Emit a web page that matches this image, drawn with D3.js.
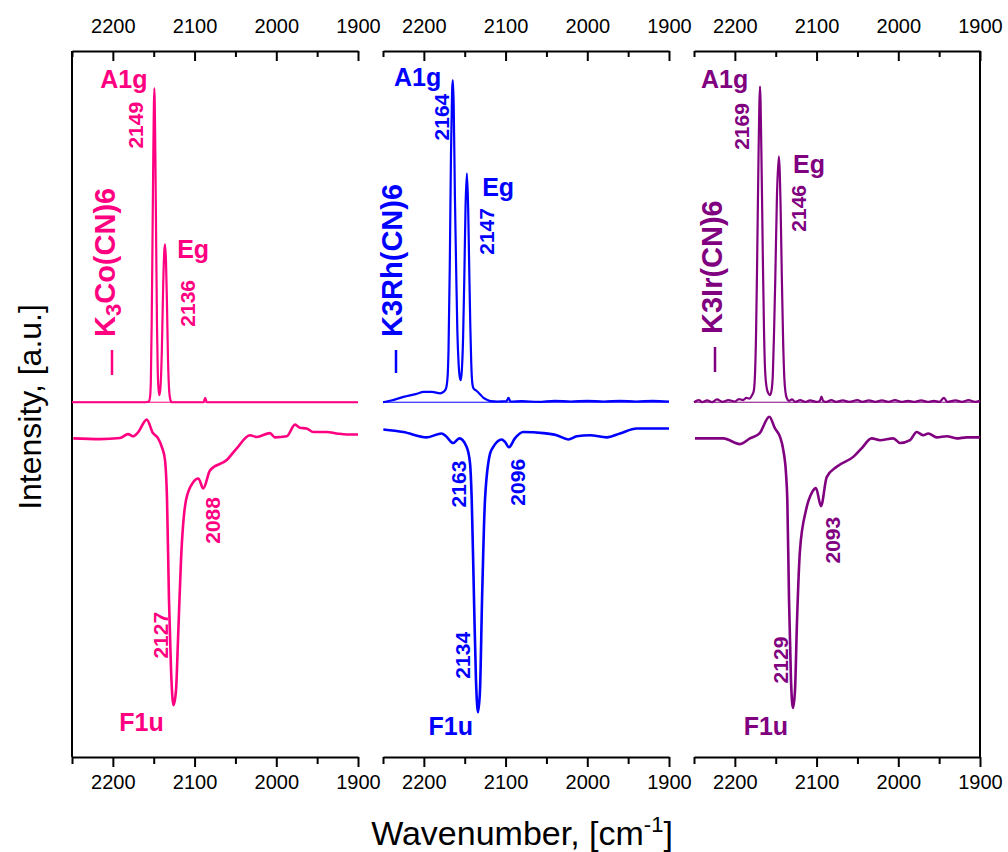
<!DOCTYPE html>
<head>
<meta charset="UTF-8">
<script src="https://d3js.org/d3.v7.min.js"></script>
<style>
  body { margin: 0; background: #fff; }
  svg text { font-family: Arial, "Liberation Sans", Helvetica, sans-serif; }
</style>
</head>
<body>
<div id="chart"></div>
<script>
// ---- data ----
var majorTicks = [2200, 2100, 2000, 1900];
var minorTicks = [2250, 2150, 2050, 1950];
var compounds = ["K3Co(CN)6", "K3Rh(CN)6", "K3Ir(CN)6"];
var colors = ["#ff0080", "#0000ff", "#800080"];

// Raman (upper traces): [wavenumber, intensity]
var ramanCo = [[2250,0],[2230,0],[2200,0],[2175,0],[2160,0],[2156,0.2],[2154.5,1.5],[2153.5,6],[2152.5,22],[2151.5,45],[2150.5,70],[2149.2,88.5],
  [2148,70],[2147,45],[2146,22],[2145,8],[2143.8,3],[2142.8,2],[2141.5,5],[2140,15],[2138.5,32],[2137.2,42],[2136.2,44.5],[2135,40],
  [2133.8,28],[2132.5,12],[2131,3],[2129.5,0.6],[2128,0],[2095,0],[2089,0],[2087,1.2],[2085,0],[2040,0],[1900,0]];
var ramanRh = [[2250,0],[2240,0.5],[2225,1.5],[2210,2.3],[2200,2.9],[2190,2.9],[2180,2.5],[2176,2.9],[2173,3.8],[2171,7],[2169.8,15],
  [2168.3,38],[2166.8,70],[2165.4,88],[2164.5,90.8],[2163.5,84],[2162,58],[2160.5,38],[2159,20],[2157.5,11],[2156,7],[2154.8,6.2],
  [2153.5,9],[2152,18],[2150.5,35],[2149,55],[2147.3,64.5],[2145.8,55],[2144.5,38],[2143.2,22],[2142,11],[2140.5,5],[2139,3.8],
  [2136,3.3],[2131,2.2],[2127,1.2],[2122,0.6],[2118,0.3],[2110,0.2],[2099,0.3],[2096.5,1.2],[2094,0.2],[2080,0.3],[2060,0.1],
  [2040,0.4],[2020,0.2],[2000,0.4],[1980,0.2],[1960,0.4],[1940,0.2],[1920,0.4],[1900,0.2]];
var ramanIr = [[2250,0],[2244,0.6],[2240,0],[2234,0.5],[2228,0],[2222,0.8],[2215,0.1],[2208,0.6],[2200,0.2],[2195,0.9],[2190,0.6],
  [2186,1.2],[2182,1.0],[2179,2],[2177,3],[2175.5,7],[2174,20],[2172.7,40],[2171,70],[2169.2,89],[2167.5,70],[2165.7,40],[2164.3,20],
  [2163,9],[2161,4],[2159,2.5],[2157,2],[2155,3.5],[2153.5,8],[2152,20],[2150.5,35],[2148.5,58],[2146.2,69.3],[2144,55],[2142.5,35],
  [2141,18],[2139.5,7],[2138,2.8],[2136.5,1.2],[2134,0.4],[2130,0.8],[2126,0.1],[2120,0.6],[2114,0.1],[2108,0.5],[2100,0.1],[2096,0.4],
  [2094,1.6],[2092,0.4],[2088,0.1],[2082,0.6],[2076,0.1],[2068,0.5],[2060,0.1],[2050,0.6],[2044,0.1],[2036,0.5],[2028,0.1],[2020,0.5],
  [2012,0.1],[2004,0.6],[1996,0.1],[1988,0.4],[1980,0.1],[1972,0.5],[1964,0.1],[1956,0.4],[1950,0.1],[1944,1.2],[1940,0.1],[1930,0.5],
  [1922,0.1],[1914,0.6],[1906,0.1],[1900,0.5]];

// IR (lower traces)
var irCo = [[2248.4,-10.2],[2215.7,-10.4],[2191.3,-10.1],[2181.5,-9.0],[2175.3,-9.6],[2169.2,-8.5],[2158.6,-4.9],[2150.9,-8.7],
  [2144.8,-10.1],[2139.9,-12.7],[2136.2,-16.3],[2133.7,-27.6],[2131.3,-55.8],[2128.8,-75.5],[2125.8,-85.4],[2122.7,-81.2],
  [2120.3,-67.1],[2116.6,-44.5],[2110.5,-27.6],[2101.5,-22.5],[2095.4,-21.5],[2089.3,-24.3],[2081.1,-19.2],[2060.7,-16.3],
  [2048.4,-13.0],[2032.2,-9.3],[2024.0,-9.8],[2007.7,-8.7],[2001.6,-9.9],[1987.2,-9.6],[1977.1,-6.3],[1971.0,-7.2],[1962.8,-7.4],
  [1954.7,-8.4],[1938.3,-8.4],[1926.1,-8.8],[1913.8,-9.1],[1900,-9.1]];
var irRh = [[2249.6,-7.7],[2225.2,-8.4],[2196.5,-9.9],[2178.2,-8.8],[2172.9,-9.6],[2164.0,-11.5],[2156.6,-10.2],[2147.6,-12.6],
  [2143.5,-17.2],[2141.4,-27.6],[2138.6,-55.8],[2136.2,-78.4],[2133.7,-87.4],[2131.3,-81.2],[2128.8,-55.8],[2125.2,-27.6],
  [2119.0,-14.5],[2115.0,-12.6],[2104.7,-10.5],[2100.7,-11.2],[2095.8,-12.7],[2088.6,-10.2],[2078.3,-8.4],[2053.8,-8.7],
  [2037.4,-9.3],[2023.2,-10.5],[2012.9,-9.6],[1996.7,-9.3],[1976.2,-9.9],[1960.0,-8.8],[1939.5,-7.4],[1919.2,-7.4],[1900,-7.4]];
var irIr = [[2248.8,-10.2],[2214.1,-10.2],[2193.7,-11.8],[2181.5,-10.2],[2169.5,-8.7],[2157.8,-4.1],[2150.9,-7.4],[2144.7,-9.8],
  [2140.7,-13.5],[2137.4,-20.1],[2135.8,-27.6],[2133.7,-55.8],[2131.3,-78.4],[2128.8,-86.2],[2126.4,-81.2],[2123.9,-61.4],
  [2120.3,-41.7],[2112.9,-30.4],[2105.6,-25.4],[2100.7,-24.2],[2094.6,-29.3],[2087.6,-21.1],[2075.4,-18.2],[2055.1,-15.4],
  [2044.9,-13.0],[2032.5,-10.2],[2022.4,-10.7],[2006.1,-10.2],[1997.9,-11.5],[1985.6,-10.7],[1977.5,-8.4],[1969.4,-9.3],
  [1963.3,-8.8],[1952.9,-9.9],[1940.7,-9.6],[1928.5,-10.2],[1916.3,-9.9],[1900,-9.9]];

var ramanSeries = [ramanCo, ramanRh, ramanIr];
var irSeries = [irCo, irRh, irIr];

// band assignments
var a1gBands = [2149, 2164, 2169];
var egBands = [2136, 2147, 2146];
var f1uBands = [2127, 2134, 2129];
var irExtraBands = [[2088], [2163, 2096], [2093]];

// ---- layout ----
var width = 1008, height = 852;
var plotTop = 51, plotBottom = 757, plotLeft = 72, panelW = 286, panelGap = 25;
var col = i => plotLeft + i * (panelW + panelGap);

// label offsets from the band point (px)
var lay = {
  a1gName: [[-7, 0], [-12, 6], [-12, 2]],
  a1gNum:  [[-19, 37], [-12, 37], [-19, 40]],
  egName:  [[12, 14], [15, 23], [14, 17]],
  egNum:   [[22, 59], [19, 58], [19, 52]],
  f1uName: [[-31, 26], [-27, 23], [-27, 27]],
  f1uNum:  [[-12, -70], [-15, -57], [-12, -48]],
  extraNum: [[[9, 32]], [[5, 41], [8, 35]], [[11, 34]]],
  legend: [{x: 40, tx: 33, y0: 350, y1: 375}, {x: 13, tx: 9, y0: 350, y1: 373}, {x: 21, tx: 18, y0: 347, y1: 372}]
};

var svg = d3.select("#chart").append("svg")
    .attr("width", width)
    .attr("height", height);

var y = d3.scaleLinear().domain([-100, 99]).range([plotBottom, plotTop]);

function nearest(series, wn) {
  return d3.least(series, d => Math.abs(d[0] - wn));
}

function vText(g, txt, cx, cy, size, color, anchor) {
  return g.append("text")
    .attr("transform", "translate(" + cx + "," + cy + ") rotate(-90)")
    .attr("text-anchor", anchor || "middle")
    .attr("dy", "0.358em")
    .attr("font-size", size)
    .attr("font-weight", "bold")
    .attr("fill", color)
    .text(txt);
}

compounds.forEach(function(name, i) {
  var x0 = col(i);
  var x = d3.scaleLinear().domain([2250, 1900]).range([x0, x0 + panelW]);
  var c = colors[i];
  var g = svg.append("g");

  // axes
  var top = g.append("g").attr("transform", "translate(0," + plotTop + ")")
    .call(d3.axisTop(x).tickValues(majorTicks).tickSize(-10).tickSizeOuter(0).tickPadding(18).tickFormat(d3.format("d")));
  g.append("g").attr("transform", "translate(0," + plotTop + ")")
    .call(d3.axisTop(x).tickValues(minorTicks).tickSize(-6).tickSizeOuter(0).tickFormat(""))
    .call(a => a.select(".domain").remove());
  var bot = g.append("g").attr("transform", "translate(0," + plotBottom + ")")
    .call(d3.axisBottom(x).tickValues(majorTicks).tickSize(10).tickSizeOuter(0).tickPadding(8).tickFormat(d3.format("d")));
  g.append("g").attr("transform", "translate(0," + plotBottom + ")")
    .call(d3.axisBottom(x).tickValues(minorTicks).tickSize(7).tickSizeOuter(0).tickFormat(""))
    .call(a => a.select(".domain").remove());
  g.selectAll(".domain, .tick line").attr("stroke", "#000").attr("stroke-width", 2);
  g.selectAll(".tick text").attr("font-size", 20).attr("fill", "#000");

  if (i === 0) {
    g.append("line").attr("x1", x(2250)).attr("x2", x(2250)).attr("y1", plotTop).attr("y2", plotBottom)
      .attr("stroke", "#000").attr("stroke-width", 2);
  }
  if (i === compounds.length - 1) {
    g.append("line").attr("x1", x(1900)).attr("x2", x(1900)).attr("y1", plotTop).attr("y2", plotBottom)
      .attr("stroke", "#000").attr("stroke-width", 2);
  }

  // traces
  var line = d3.line().x(d => x(d[0])).y(d => y(d[1])).curve(d3.curveMonotoneX);
  g.append("line").attr("x1", x(2250)).attr("x2", x(1900)).attr("y1", y(0)).attr("y2", y(0))
    .attr("stroke", c).attr("stroke-width", 1);
  g.append("path").datum(ramanSeries[i]).attr("d", line)
    .attr("fill", "none").attr("stroke", c).attr("stroke-width", 2.2).attr("stroke-linejoin", "round");
  g.append("path").datum(irSeries[i]).attr("d", line)
    .attr("fill", "none").attr("stroke", c).attr("stroke-width", 2.6).attr("stroke-linejoin", "round");

  // band labels
  var pA = nearest(ramanSeries[i], a1gBands[i]);
  var ax = x(a1gBands[i]), ay = y(pA[1]);
  g.append("text").attr("x", ax + lay.a1gName[i][0]).attr("y", ay + lay.a1gName[i][1])
    .attr("text-anchor", "end").attr("font-size", 25).attr("font-weight", "bold").attr("fill", c).text("A1g");
  vText(g, a1gBands[i], ax + lay.a1gNum[i][0], ay + lay.a1gNum[i][1], 21, c);

  var pE = nearest(ramanSeries[i], egBands[i]);
  var ex = x(egBands[i]), ey = y(pE[1]);
  g.append("text").attr("x", ex + lay.egName[i][0]).attr("y", ey + lay.egName[i][1])
    .attr("text-anchor", "start").attr("font-size", 25).attr("font-weight", "bold").attr("fill", c).text("Eg");
  vText(g, egBands[i], ex + lay.egNum[i][0], ey + lay.egNum[i][1], 21, c);

  var pF = nearest(irSeries[i], f1uBands[i]);
  var fx = x(f1uBands[i]), fy = y(pF[1]);
  g.append("text").attr("x", fx + lay.f1uName[i][0]).attr("y", fy + lay.f1uName[i][1])
    .attr("text-anchor", "middle").attr("font-size", 25).attr("font-weight", "bold").attr("fill", c).text("F1u");
  vText(g, f1uBands[i], fx + lay.f1uNum[i][0], fy + lay.f1uNum[i][1], 21, c);

  irExtraBands[i].forEach(function(b, k) {
    var p = nearest(irSeries[i], b);
    vText(g, b, x(p[0]) + lay.extraNum[i][k][0], y(p[1]) + lay.extraNum[i][k][1], 21, c);
  });

  // legend
  var L = lay.legend[i];
  g.append("line").attr("x1", x0 + L.x).attr("x2", x0 + L.x).attr("y1", L.y0).attr("y2", L.y1)
    .attr("stroke", c).attr("stroke-width", 2.5);
  var lt = vText(g, "", x0 + L.tx, L.y0 - 13, 29, c, "start");
  if (i === 0) {
    lt.append("tspan").text(name.slice(0, 1));
    lt.append("tspan").attr("dy", 6).attr("font-size", 22).text(name.slice(1, 2));
    lt.append("tspan").attr("dy", -6).text(name.slice(2));
  } else {
    lt.text(name);
  }
});

// axis titles
svg.append("text")
  .attr("transform", "translate(30," + ((plotTop + plotBottom) / 2 + 3) + ") rotate(-90)")
  .attr("text-anchor", "middle").attr("dy", "0.358em")
  .attr("font-size", 32).attr("fill", "#000")
  .text("Intensity, [a.u.]");

var xt = svg.append("text")
  .attr("x", 522).attr("y", 845)
  .attr("text-anchor", "middle").attr("font-size", 34).attr("fill", "#000");
xt.append("tspan").text("Wavenumber, [cm");
xt.append("tspan").attr("dy", -13).attr("font-size", 22).text("-1");
xt.append("tspan").attr("dy", 13).text("]");
</script>
</body>
